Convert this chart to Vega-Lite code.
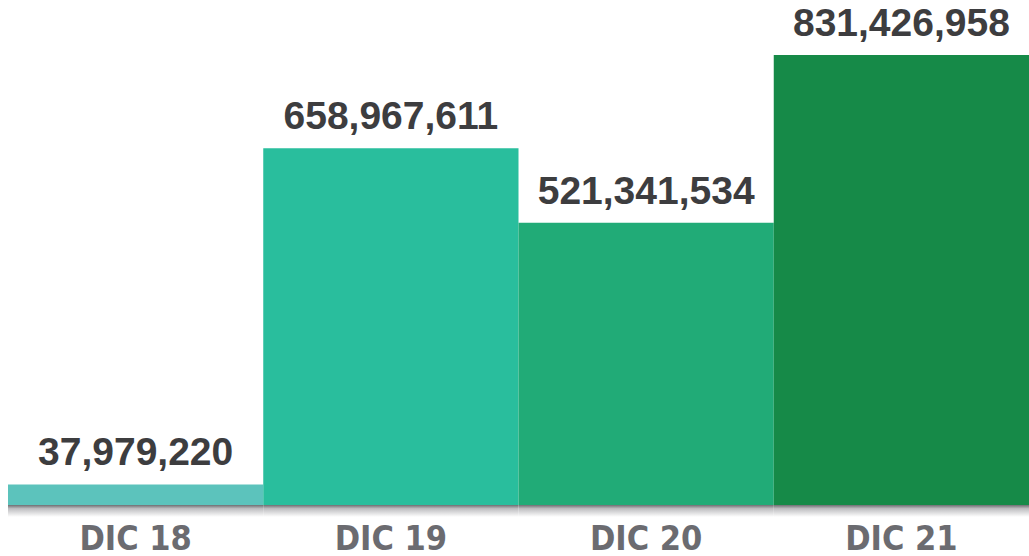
{
  "$schema": "https://vega.github.io/schema/vega-lite/v6.json",
  "autosize": "none",
  "width": 1021,
  "height": 518,
  "padding": {"left": 8, "right": 0, "top": 0, "bottom": 38},
  "background": "white",
  "data": {"values": [
    {"periodo": "DIC 18", "valor": 37979220, "color": "#5CC3BC"},
    {"periodo": "DIC 19", "valor": 658967611, "color": "#29BE9D"},
    {"periodo": "DIC 20", "valor": 521341534, "color": "#21AB77"},
    {"periodo": "DIC 21", "valor": 831426958, "color": "#168A48"}
  ]},
  "encoding": {
    "x": {"field": "periodo", "type": "nominal", "sort": null,
      "scale": {"paddingInner": 0, "paddingOuter": 0},
      "axis": {"title": null, "domain": false, "ticks": false, "labelAngle": 0,
        "labelFont": "DejaVu Sans Condensed, sans-serif",
        "labelFontWeight": "bold", "labelFontSize": 34, "labelColor": "#6B6B70",
        "labelBaseline": "alphabetic", "labelPadding": 31}}
  },
  "layer": [
    {
      "mark": {"type": "rect", "fill": {"gradient": "linear", "x1": 0, "y1": 0, "x2": 0, "y2": 1,
        "stops": [{"offset": 0, "color": "#6E6E72"}, {"offset": 0.3, "color": "#BDBDC0"}, {"offset": 1, "color": "#FFFFFF"}]}},
      "encoding": {
        "y": {"datum": 0, "type": "quantitative", "axis": null, "scale": {"domain": [-24000000, 933000000], "nice": false, "zero": false}},
        "y2": {"datum": -22000000}
      }
    },
    {
      "mark": {"type": "bar"},
      "encoding": {
        "y": {"field": "valor", "type": "quantitative", "axis": null},
        "color": {"field": "color", "type": "nominal", "scale": null, "legend": null}
      }
    },
    {
      "mark": {"type": "text", "baseline": "alphabetic", "dy": -19,
        "font": "Liberation Sans, Arial, sans-serif", "fontWeight": "bold", "fontSize": 39, "color": "#3D3D3F"},
      "encoding": {
        "y": {"field": "valor", "type": "quantitative", "axis": null},
        "text": {"field": "valor", "type": "quantitative", "format": ",d"}
      }
    }
  ],
  "config": {"view": {"stroke": null}}
}
